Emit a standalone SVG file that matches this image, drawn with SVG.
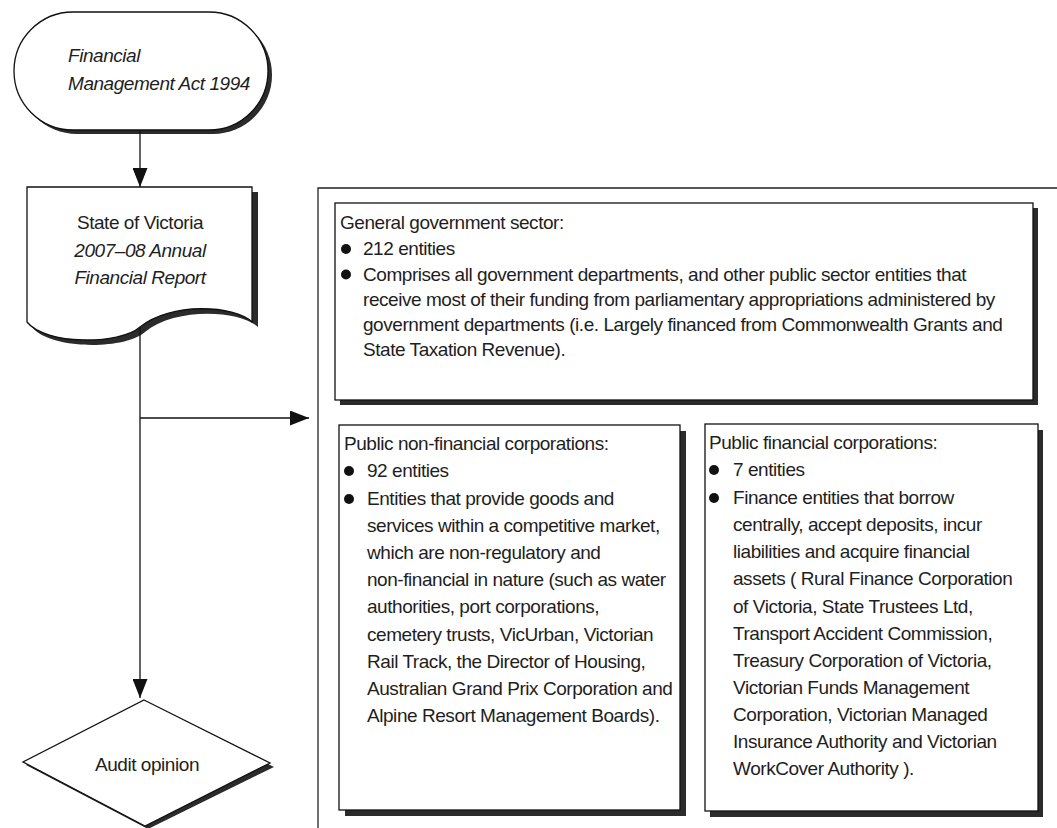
<svg xmlns="http://www.w3.org/2000/svg" width="1057" height="828" viewBox="0 0 1057 828">
<defs>
<style>
.shape{fill:#fff;stroke:#111;stroke-width:1.3}
.shadow{fill:#2b2b2b}
.t{font-family:"Liberation Sans",Arial,sans-serif;font-size:19px;letter-spacing:-0.45px;fill:#1e1e1e}
.i{font-style:italic}
.c{text-anchor:middle}
.conn{fill:none;stroke:#111;stroke-width:1.3}
.frame{fill:none;stroke:#222;stroke-width:1.3}
.bullet{fill:#111}
</style>
<marker id="arrow" markerUnits="userSpaceOnUse" markerWidth="20" markerHeight="15" refX="19" refY="7.5" orient="auto">
<path d="M0,0 L19,7.5 L0,15 z" fill="#111"/>
</marker>
</defs>
<rect width="1057" height="828" fill="#fff"/>

<g id="node-fma">
<rect class="shadow" x="18" y="16" width="254" height="118" rx="59"/>
<rect class="shape" x="14" y="12" width="254" height="118" rx="59"/>
<text class="t i" x="68" y="62">Financial</text>
<text class="t i" x="68" y="90">Management Act 1994</text>
</g>

<g id="node-report">
<path class="shadow" d="M32,192 H258 V327 C240,310 175,307 145,332 C125,350 50,350 32,327 Z"/>
<path class="shape" d="M27,187 H252 V322 C235,305 170,302 140,327 C120,345 45,345 27,322 Z"/>
<text class="t c" x="140" y="229">State of Victoria</text>
<text class="t c i" x="140" y="256.5">2007–08 Annual</text>
<text class="t c i" x="140" y="284">Financial Report</text>
</g>

<g id="node-audit">
<polygon class="shadow" points="147,703 274,767 148,829 26,765"/>
<polygon class="shape" points="144,700 270,763 145,826 23,762"/>
<text class="t c" x="147" y="771">Audit opinion</text>
</g>

<g id="frame">
<path class="frame" d="M318,828 V188 H1057"/>
</g>

<g id="node-general">
<rect class="shadow" x="340" y="208" width="698" height="197"/>
<rect class="shape" x="335" y="203" width="698" height="197"/>
<text class="t" x="340" y="229">General government sector:</text>
<circle class="bullet" cx="346" cy="249" r="5"/>
<text class="t" x="363" y="255">212 entities</text>
<circle class="bullet" cx="346" cy="274.5" r="5"/>
<text class="t" x="363" y="280.5">Comprises all government departments, and other public sector entities that</text>
<text class="t" x="363" y="305.5">receive most of their funding from parliamentary appropriations administered by</text>
<text class="t" x="363" y="330.5">government departments (i.e. Largely financed from Commonwealth Grants and</text>
<text class="t" x="363" y="355.5">State Taxation Revenue).</text>
</g>

<g id="node-pnfc">
<rect class="shadow" x="345" y="431" width="341" height="385"/>
<rect class="shape" x="339" y="425" width="341" height="385"/>
<text class="t" x="344" y="450">Public non-financial corporations:</text>
<circle class="bullet" cx="349" cy="471" r="5"/>
<text class="t" x="367" y="477">92 entities</text>
<circle class="bullet" cx="349" cy="499" r="5"/>
<text class="t" x="367" y="505">Entities that provide goods and</text>
<text class="t" x="367" y="532">services within a competitive market,</text>
<text class="t" x="367" y="559">which are non-regulatory and</text>
<text class="t" x="367" y="586">non-financial in nature (such as water</text>
<text class="t" x="367" y="613">authorities, port corporations,</text>
<text class="t" x="367" y="640.5">cemetery trusts, VicUrban, Victorian</text>
<text class="t" x="367" y="667.5">Rail Track, the Director of Housing,</text>
<text class="t" x="367" y="695">Australian Grand Prix Corporation and</text>
<text class="t" x="367" y="722">Alpine Resort Management Boards).</text>
</g>

<g id="node-pfc">
<rect class="shadow" x="710" y="430" width="333" height="387"/>
<rect class="shape" x="705" y="424" width="333" height="387"/>
<text class="t" x="709" y="449">Public financial corporations:</text>
<circle class="bullet" cx="714" cy="470" r="5"/>
<text class="t" x="733" y="476">7 entities</text>
<circle class="bullet" cx="714" cy="498" r="5"/>
<text class="t" x="733" y="504">Finance entities that borrow</text>
<text class="t" x="733" y="531">centrally, accept deposits, incur</text>
<text class="t" x="733" y="558">liabilities and acquire financial</text>
<text class="t" x="733" y="585">assets ( Rural Finance Corporation</text>
<text class="t" x="733" y="612.5">of Victoria, State Trustees Ltd,</text>
<text class="t" x="733" y="640">Transport Accident Commission,</text>
<text class="t" x="733" y="667">Treasury Corporation of Victoria,</text>
<text class="t" x="733" y="694">Victorian Funds Management</text>
<text class="t" x="733" y="721">Corporation, Victorian Managed</text>
<text class="t" x="733" y="748">Insurance Authority and Victorian</text>
<text class="t" x="733" y="775">WorkCover Authority ).</text>
</g>

<g id="connectors">
<line class="conn" x1="140" y1="131" x2="140" y2="187" marker-end="url(#arrow)"/>
<line class="conn" x1="140" y1="327" x2="140" y2="698" marker-end="url(#arrow)"/>
<line class="conn" x1="140" y1="418" x2="309" y2="418" marker-end="url(#arrow)"/>
</g>
</svg>
